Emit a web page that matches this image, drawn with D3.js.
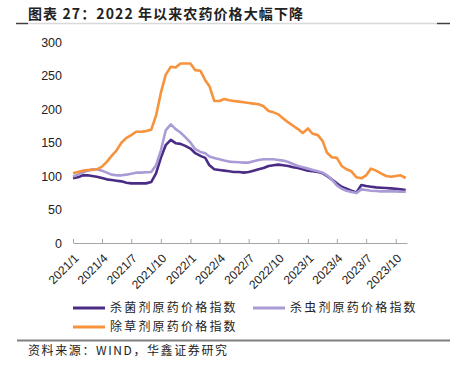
<!DOCTYPE html>
<html>
<head>
<meta charset="utf-8">
<script src="https://cdn.jsdelivr.net/npm/d3@7"></script>
<style>
  body { margin: 0; background: #fff; }
  svg { display: block; }
</style>
</head>
<body>
<svg id="chart" width="450" height="372"></svg>
<script>
const dates = [
  '2021-01-01','2021-01-16','2021-02-01','2021-02-16','2021-03-01','2021-03-16','2021-04-01','2021-04-16',
  '2021-05-01','2021-05-16','2021-06-01','2021-06-16','2021-07-01','2021-07-16','2021-08-01','2021-08-16',
  '2021-09-01','2021-09-16','2021-10-01','2021-10-16','2021-11-01','2021-11-16','2021-12-01','2021-12-16',
  '2022-01-01','2022-01-16','2022-02-01','2022-02-16','2022-03-01','2022-03-16','2022-04-01','2022-04-16',
  '2022-05-01','2022-05-16','2022-06-01','2022-06-16','2022-07-01','2022-07-16','2022-08-01','2022-08-16',
  '2022-09-01','2022-09-16','2022-10-01','2022-10-16','2022-11-01','2022-11-16','2022-12-01','2022-12-16',
  '2023-01-01','2023-01-16','2023-02-01','2023-02-16','2023-03-01','2023-03-16','2023-04-01','2023-04-16',
  '2023-05-01','2023-05-16','2023-06-01','2023-06-16','2023-07-01','2023-07-16','2023-08-01','2023-08-16',
  '2023-09-01','2023-09-16','2023-10-01','2023-10-16','2023-11-01'
];

// 杀菌剂原药价格指数
const fungicide = [
  96.5, 98, 101, 101, 100, 99, 97, 95, 94, 93, 92, 90, 89, 89, 89, 89,
  91, 104, 127, 146, 154, 149, 148, 145, 141, 134, 130, 127, 116, 110, 109, 108,
  107, 106, 106, 105, 106, 108, 110, 112, 115, 116, 117, 116, 115, 113, 112, 110,
  108, 107, 106, 104, 100, 95, 89, 84, 81, 78, 75.5, 86.5, 85, 84, 83, 82.5,
  82, 81.5, 81, 80, 79
];

// 杀虫剂原药价格指数
const insecticide = [
  99, 102, 105, 108, 110, 110, 108, 105, 102, 101, 101, 102, 103.5, 105, 105, 105.5,
  106, 116, 138, 168, 177, 170, 165, 158, 150, 140, 136, 134, 129, 127, 125, 123,
  121.5, 121, 120.5, 120, 120, 122, 124, 125, 125, 125, 124, 123, 121, 118, 115, 113,
  111, 109, 107, 105, 101, 95, 86, 81, 78, 76, 74.5, 80, 79, 78, 77.5, 77,
  77, 77, 77, 76.5, 76.5
];

// 除草剂原药价格指数
const herbicide = [
  104, 106, 108, 109, 109, 110, 114, 121, 130, 138, 150, 157, 161, 166, 166, 167,
  169, 190, 224, 251, 263, 262, 268, 268, 268, 258, 257, 243, 234, 212, 212, 215,
  213, 212, 211, 210, 209, 208, 207, 204, 197, 195, 192, 186, 180, 175, 170, 164,
  171, 163, 161, 152, 135, 128, 127, 115, 110, 107, 98, 96.5, 101, 111, 108, 104,
  100, 99, 100, 101, 97
];

const seriesNames = ['杀菌剂原药价格指数', '杀虫剂原药价格指数', '除草剂原药价格指数'];
const seriesColors = ['#4b2c85', '#a99cd6', '#f7923d'];
const tickDates = ['2021-01-01','2021-04-01','2021-07-01','2021-10-01','2022-01-01','2022-04-01',
  '2022-07-01','2022-10-01','2023-01-01','2023-04-01','2023-07-01','2023-10-01'];
const yTicks = [0, 50, 100, 150, 200, 250, 300];

const parse = d3.timeParse('%Y-%m-%d');
const cjk = "'Noto Sans CJK SC', sans-serif";
const latin = "'Liberation Sans', Arial, sans-serif";

const svg = d3.select('#chart');

// title + rules
svg.append('text')
  .attr('x', 28).attr('y', 19)
  .attr('font-family', cjk).attr('font-weight', 'bold')
  .attr('font-size', 14).attr('letter-spacing', 1.1)
  .attr('fill', '#222')
  .text('图表 27：2022 年以来农药价格大幅下降');
svg.append('line').attr('x1', 28).attr('x2', 437).attr('y1', 23.5).attr('y2', 23.5)
  .attr('stroke', '#d9d9d9').attr('stroke-width', 1.5);
svg.append('line').attr('x1', 16).attr('x2', 28).attr('y1', 23.5).attr('y2', 23.5)
  .attr('stroke', '#404040').attr('stroke-width', 1.5);
svg.append('line').attr('x1', 437).attr('x2', 450).attr('y1', 23.5).attr('y2', 23.5)
  .attr('stroke', '#404040').attr('stroke-width', 1.5);

const x = d3.scaleTime()
  .domain([parse('2021-01-01'), parse('2023-11-05')])
  .range([73, 407]);
const y = d3.scaleLinear()
  .domain([0, 300])
  .range([243, 42]);

// y axis labels only
const yAxis = svg.append('g')
  .attr('transform', 'translate(73,0)')
  .call(d3.axisLeft(y).tickValues(yTicks).tickSize(0).tickPadding(11));
yAxis.select('.domain').remove();
yAxis.selectAll('text')
  .attr('font-family', latin).attr('font-size', 12.5).attr('fill', '#222');

// x axis
const xAxis = svg.append('g')
  .attr('transform', 'translate(0,243)')
  .call(d3.axisBottom(x)
    .tickValues(tickDates.map(parse))
    .tickSizeInner(-4).tickSizeOuter(0)
    .tickFormat(d3.timeFormat('%Y/%-m')));
xAxis.select('.domain').attr('stroke', '#a6a6a6');
xAxis.selectAll('.tick line').attr('stroke', '#a6a6a6');
xAxis.selectAll('text')
  .attr('font-family', latin).attr('font-size', 12).attr('fill', '#222')
  .attr('x', 0).attr('y', 0).attr('dy', '0.35em')
  .attr('text-anchor', 'end')
  .attr('transform', 'translate(3,13) rotate(-45)');

// lines
const line = d3.line()
  .x((d, i) => x(parse(dates[i])))
  .y(d => y(d));
[fungicide, insecticide, herbicide].forEach((vals, k) => {
  svg.append('path')
    .datum(vals)
    .attr('d', line)
    .attr('fill', 'none')
    .attr('stroke', seriesColors[k])
    .attr('stroke-width', 2.6)
    .attr('stroke-linejoin', 'round');
});

// legend
const legendPos = [[73, 308], [253, 308], [73, 327]];
seriesNames.forEach((name, k) => {
  const [lx, ly] = legendPos[k];
  svg.append('line')
    .attr('x1', lx).attr('x2', lx + 32).attr('y1', ly).attr('y2', ly)
    .attr('stroke', seriesColors[k]).attr('stroke-width', 3);
  svg.append('text')
    .attr('x', lx + 37).attr('y', ly + 4)
    .attr('font-family', cjk).attr('font-size', 12).attr('letter-spacing', 2.2)
    .attr('fill', '#222')
    .text(name);
});

// source
svg.append('line').attr('x1', 17).attr('x2', 450).attr('y1', 340.5).attr('y2', 340.5)
  .attr('stroke', '#808080').attr('stroke-width', 2);
svg.append('text')
  .attr('x', 28).attr('y', 355)
  .attr('font-family', cjk).attr('font-size', 12).attr('letter-spacing', 1.6)
  .attr('fill', '#222')
  .text('资料来源：WIND，华鑫证券研究');
</script>
</body>
</html>
